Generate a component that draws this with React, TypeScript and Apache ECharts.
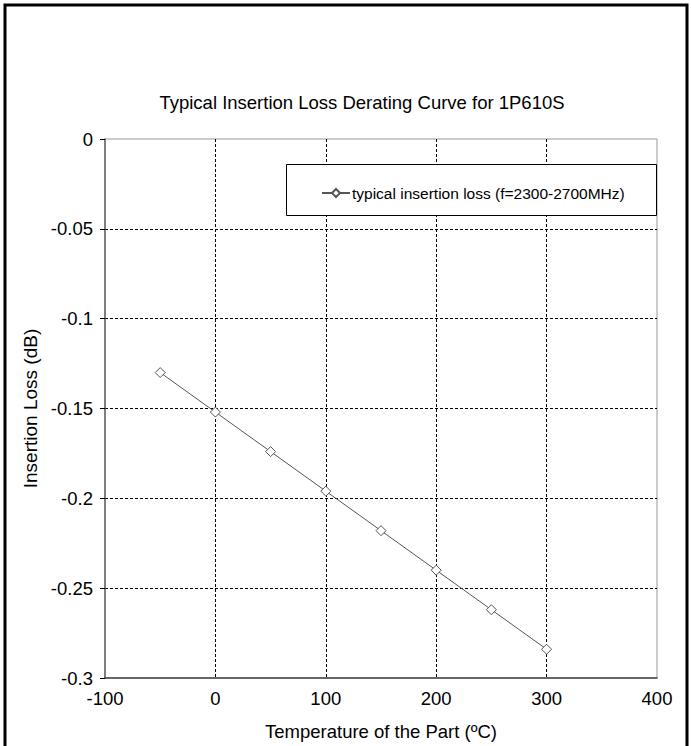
import React, { useEffect, useRef } from "react";
import * as echarts from "echarts";

const temperatures = [-50, 0, 50, 100, 150, 200, 250, 300];
const insertionLoss = [-0.13, -0.152, -0.174, -0.196, -0.218, -0.24, -0.262, -0.284];
const seriesName = "typical insertion loss (f=2300-2700MHz)";
const titleText = "Typical Insertion Loss Derating Curve for 1P610S";
const xAxisName = "Temperature of the Part (\u00baC)";
const yAxisName = "Insertion Loss (dB)";

const FONT = "'Liberation Sans', Arial, sans-serif";

export default function App() {
  const ref = useRef<HTMLDivElement>(null);
  useEffect(() => {
    if (!ref.current) return;
    const chart = echarts.init(ref.current, undefined, { renderer: "svg" });
    chart.setOption({
      animation: false,
      backgroundColor: "#fff",
      textStyle: { fontFamily: FONT },
      title: {
        text: titleText,
        left: 357,
        textAlign: "center",
        top: 88,
        textStyle: { fontSize: 18.5, fontWeight: "normal", color: "#000", fontFamily: FONT },
      },
      graphic: [
        {
          type: "rect",
          shape: { x: 5, y: 5, width: 682, height: 800 },
          style: { fill: "none", stroke: "#000", lineWidth: 3 },
          silent: true,
        },
        {
          type: "rect",
          shape: { x: 286.5, y: 164.5, width: 370, height: 51 },
          style: { fill: "#fff", stroke: "#000", lineWidth: 1 },
          z: 10,
          silent: true,
        },
      ],
      legend: {
        left: 316,
        top: 180,
        z: 20,
        itemWidth: 28,
        itemHeight: 10,
        itemGap: 4,
        textStyle: { fontSize: 15.5, color: "#000", fontFamily: FONT, padding: [0, 0, 0, -3] },
        data: [{ name: seriesName }],
      },
      grid: {
        left: 105,
        top: 139,
        right: 34,
        bottom: 68,
        show: true,
        borderColor: "#999",
        borderWidth: 1,
        containLabel: false,
      },
      xAxis: {
        type: "value",
        min: -100,
        max: 400,
        interval: 100,
        name: xAxisName,
        nameLocation: "middle",
        nameGap: 44,
        nameTextStyle: { fontSize: 18.5, color: "#000", fontFamily: FONT },
        axisLine: { show: true, onZero: false, lineStyle: { color: "#444", width: 1.5 } },
        axisTick: { show: false },
        axisLabel: { fontSize: 18.5, color: "#000", margin: 11, fontFamily: FONT },
        splitLine: {
          show: true,
          showMinLine: false,
          showMaxLine: false,
          lineStyle: { color: "#000", type: [3, 2], width: 1 },
        },
      },
      yAxis: {
        type: "value",
        min: -0.3,
        max: 0,
        interval: 0.05,
        name: yAxisName,
        nameLocation: "middle",
        nameGap: 65,
        nameTextStyle: { fontSize: 19, color: "#000", fontFamily: FONT },
        axisLine: { show: true, onZero: false, lineStyle: { color: "#666", width: 1.5 } },
        axisTick: { show: true, length: 5, lineStyle: { color: "#000" } },
        axisLabel: {
          fontSize: 18.5,
          color: "#000",
          margin: 12,
          fontFamily: FONT,
          formatter: (v: number) => String(parseFloat(v.toFixed(2))),
        },
        splitLine: {
          show: true,
          showMinLine: false,
          showMaxLine: false,
          lineStyle: { color: "#000", type: [3, 2], width: 1 },
        },
      },
      series: [
        {
          type: "line",
          name: seriesName,
          data: temperatures.map((t, i) => [t, insertionLoss[i]]),
          symbol: "diamond",
          symbolSize: 10,
          lineStyle: { color: "#555", width: 1 },
          itemStyle: { color: "#fff", borderColor: "#555", borderWidth: 1 },
          z: 5,
        },
      ],
    });
    return () => chart.dispose();
  }, []);
  return (
    <div
      ref={ref}
      style={{ position: "fixed", left: 0, top: 0, width: 691, height: 746 }}
    />
  );
}
